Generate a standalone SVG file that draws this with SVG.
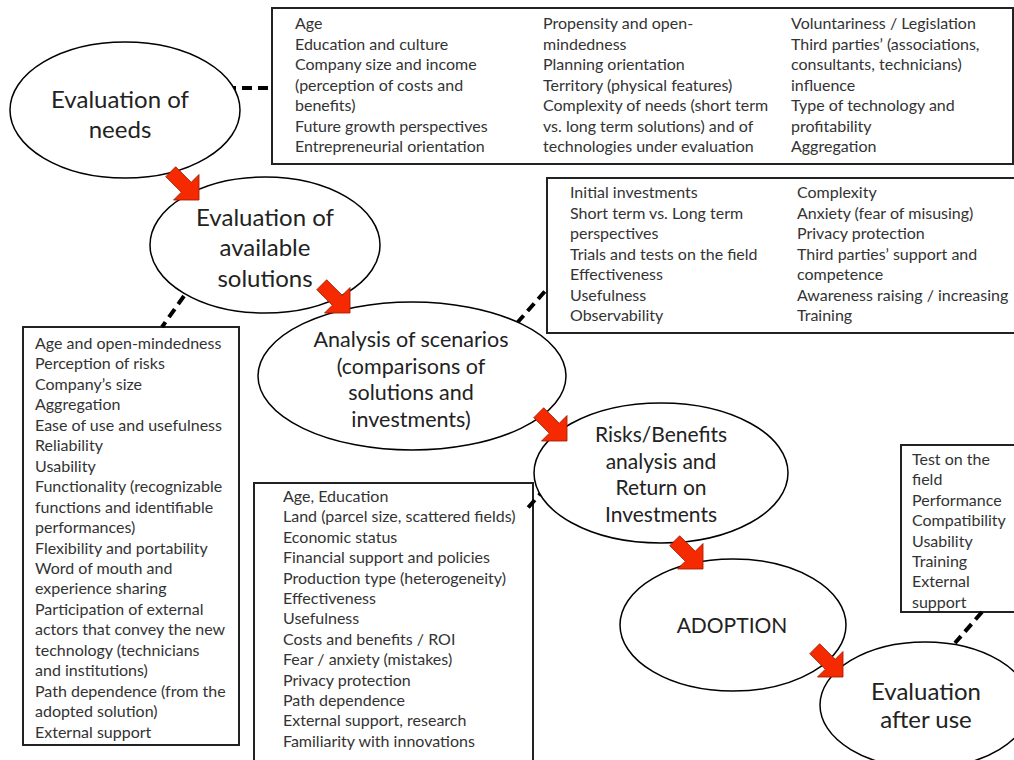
<svg xmlns="http://www.w3.org/2000/svg" width="1014" height="760" viewBox="0 0 1014 760">
<style>
.node ellipse{fill:#fff;stroke:#000;stroke-width:1.5}
.nt{font-family:Lato,"Liberation Sans",sans-serif;font-size:24px;fill:#222;text-anchor:middle}
.box rect{fill:#fff;stroke:#222;stroke-width:2}
.bt{font-family:Lato,"Liberation Sans",sans-serif;font-size:16px;fill:#333}
.dash{stroke:#000;stroke-width:4;stroke-dasharray:10,6;fill:none}
.arr{fill:#f62a00;stroke:#a01800;stroke-width:0.8}
</style>
<defs>
<path id="ra" d="M0,0 L-18,-18 L-18,-7 L-40,-7 L-40,7 L-18,7 L-18,18 Z"/>
</defs>
<rect width="1014" height="760" fill="#fff"/>

<g id="box-needs" class="box">
<rect x="272" y="8" width="741" height="156"/>
<text class="bt" y="29">
<tspan x="295">Age</tspan><tspan x="295" dy="20.5">Education and culture</tspan><tspan x="295" dy="20.5">Company size and income</tspan><tspan x="295" dy="20.5">(perception of costs and</tspan><tspan x="295" dy="20.5">benefits)</tspan><tspan x="295" dy="20.5">Future growth perspectives</tspan><tspan x="295" dy="20.5">Entrepreneurial orientation</tspan>
</text>
<text class="bt" y="29">
<tspan x="543">Propensity and open-</tspan><tspan x="543" dy="20.5">mindedness</tspan><tspan x="543" dy="20.5">Planning orientation</tspan><tspan x="543" dy="20.5">Territory (physical features)</tspan><tspan x="543" dy="20.5">Complexity of needs (short term</tspan><tspan x="543" dy="20.5">vs. long term solutions) and of</tspan><tspan x="543" dy="20.5">technologies under evaluation</tspan>
</text>
<text class="bt" y="29">
<tspan x="791">Voluntariness / Legislation</tspan><tspan x="791" dy="20.5">Third parties’ (associations,</tspan><tspan x="791" dy="20.5">consultants, technicians)</tspan><tspan x="791" dy="20.5">influence</tspan><tspan x="791" dy="20.5">Type of technology and</tspan><tspan x="791" dy="20.5">profitability</tspan><tspan x="791" dy="20.5">Aggregation</tspan>
</text>
</g>

<g id="box-scenarios" class="box">
<rect x="547" y="178" width="470" height="155"/>
<text class="bt" y="198">
<tspan x="570">Initial investments</tspan><tspan x="570" dy="20.5">Short term vs. Long term</tspan><tspan x="570" dy="20.5">perspectives</tspan><tspan x="570" dy="20.5">Trials and tests on the field</tspan><tspan x="570" dy="20.5">Effectiveness</tspan><tspan x="570" dy="20.5">Usefulness</tspan><tspan x="570" dy="20.5">Observability</tspan>
</text>
<text class="bt" y="198">
<tspan x="797">Complexity</tspan><tspan x="797" dy="20.5">Anxiety (fear of misusing)</tspan><tspan x="797" dy="20.5">Privacy protection</tspan><tspan x="797" dy="20.5">Third parties’ support and</tspan><tspan x="797" dy="20.5">competence</tspan><tspan x="797" dy="20.5">Awareness raising / increasing</tspan><tspan x="797" dy="20.5">Training</tspan>
</text>
</g>

<g id="box-solutions" class="box">
<rect x="23" y="327" width="216" height="418"/>
<text class="bt" y="349">
<tspan x="35">Age and open-mindedness</tspan><tspan x="35" dy="20.45">Perception of risks</tspan><tspan x="35" dy="20.45">Company’s size</tspan><tspan x="35" dy="20.45">Aggregation</tspan><tspan x="35" dy="20.45">Ease of use and usefulness</tspan><tspan x="35" dy="20.45">Reliability</tspan><tspan x="35" dy="20.45">Usability</tspan><tspan x="35" dy="20.45">Functionality (recognizable</tspan><tspan x="35" dy="20.45">functions and identifiable</tspan><tspan x="35" dy="20.45">performances)</tspan><tspan x="35" dy="20.45">Flexibility and portability</tspan><tspan x="35" dy="20.45">Word of mouth and</tspan><tspan x="35" dy="20.45">experience sharing</tspan><tspan x="35" dy="20.45">Participation of external</tspan><tspan x="35" dy="20.45">actors that convey the new</tspan><tspan x="35" dy="20.45">technology (technicians</tspan><tspan x="35" dy="20.45">and institutions)</tspan><tspan x="35" dy="20.45">Path dependence (from the</tspan><tspan x="35" dy="20.45">adopted solution)</tspan><tspan x="35" dy="20.45">External support</tspan>
</text>
</g>

<g id="box-risks" class="box">
<rect x="254" y="483" width="279" height="290"/>
<text class="bt" y="502">
<tspan x="283">Age, Education</tspan><tspan x="283" dy="20.4">Land (parcel size, scattered fields)</tspan><tspan x="283" dy="20.4">Economic status</tspan><tspan x="283" dy="20.4">Financial support and policies</tspan><tspan x="283" dy="20.4">Production type (heterogeneity)</tspan><tspan x="283" dy="20.4">Effectiveness</tspan><tspan x="283" dy="20.4">Usefulness</tspan><tspan x="283" dy="20.4">Costs and benefits / ROI</tspan><tspan x="283" dy="20.4">Fear / anxiety (mistakes)</tspan><tspan x="283" dy="20.4">Privacy protection</tspan><tspan x="283" dy="20.4">Path dependence</tspan><tspan x="283" dy="20.4">External support, research</tspan><tspan x="283" dy="20.4">Familiarity with innovations</tspan>
</text>
</g>

<g id="box-after" class="box">
<rect x="901" y="445" width="120" height="167"/>
<text class="bt" y="465">
<tspan x="912">Test on the</tspan><tspan x="912" dy="20.4">field</tspan><tspan x="912" dy="20.4">Performance</tspan><tspan x="912" dy="20.4">Compatibility</tspan><tspan x="912" dy="20.4">Usability</tspan><tspan x="912" dy="20.4">Training</tspan><tspan x="912" dy="20.4">External</tspan><tspan x="912" dy="20.4">support</tspan>
</text>
</g>

<g id="connectors">
<line class="dash" x1="226" y1="88" x2="272" y2="88"/>
<line class="dash" x1="184" y1="296" x2="162" y2="327"/>
<line class="dash" x1="517" y1="323" x2="547" y2="289"/>
<line class="dash" x1="556" y1="476" x2="526" y2="510"/>
<line class="dash" x1="982" y1="612" x2="955" y2="643"/>
</g>

<g id="n-needs" class="node">
<ellipse cx="125" cy="110" rx="115" ry="68"/>
<text class="nt" x="120" y="108">Evaluation of</text>
<text class="nt" x="120" y="138">needs</text>
</g>
<g id="n-solutions" class="node">
<ellipse cx="265" cy="245" rx="115" ry="68"/>
<text class="nt" x="265" y="226">Evaluation of</text>
<text class="nt" x="265" y="256">available</text>
<text class="nt" x="265" y="287">solutions</text>
</g>
<g id="n-scenarios" class="node">
<ellipse cx="412" cy="376" rx="154" ry="74"/>
<text class="nt" x="411" y="347" style="font-size:21.5px">Analysis of scenarios</text>
<text class="nt" x="411" y="374" style="font-size:21.5px">(comparisons of</text>
<text class="nt" x="411" y="400" style="font-size:21.5px">solutions and</text>
<text class="nt" x="411" y="427" style="font-size:21.5px">investments)</text>
</g>
<g id="n-risks" class="node">
<ellipse cx="661" cy="473" rx="127" ry="70"/>
<text class="nt" x="661" y="442" style="font-size:21px">Risks/Benefits</text>
<text class="nt" x="661" y="469" style="font-size:21px">analysis and</text>
<text class="nt" x="661" y="495" style="font-size:21px">Return on</text>
<text class="nt" x="661" y="522" style="font-size:21px">Investments</text>
</g>
<g id="n-adoption" class="node">
<ellipse cx="733" cy="625" rx="113" ry="66"/>
<text class="nt" x="732" y="633" style="font-size:21px">ADOPTION</text>
</g>
<g id="n-after" class="node">
<ellipse cx="925" cy="705" rx="105" ry="63"/>
<text class="nt" x="926" y="700">Evaluation</text>
<text class="nt" x="926" y="728">after use</text>
</g>

<g id="flow-arrows">
<use href="#ra" class="arr" transform="translate(199,200) rotate(45)"/>
<use href="#ra" class="arr" transform="translate(350,313) rotate(45)"/>
<use href="#ra" class="arr" transform="translate(567,441) rotate(45)"/>
<use href="#ra" class="arr" transform="translate(703,569) rotate(45)"/>
<use href="#ra" class="arr" transform="translate(843,677) rotate(45)"/>
</g>
</svg>
